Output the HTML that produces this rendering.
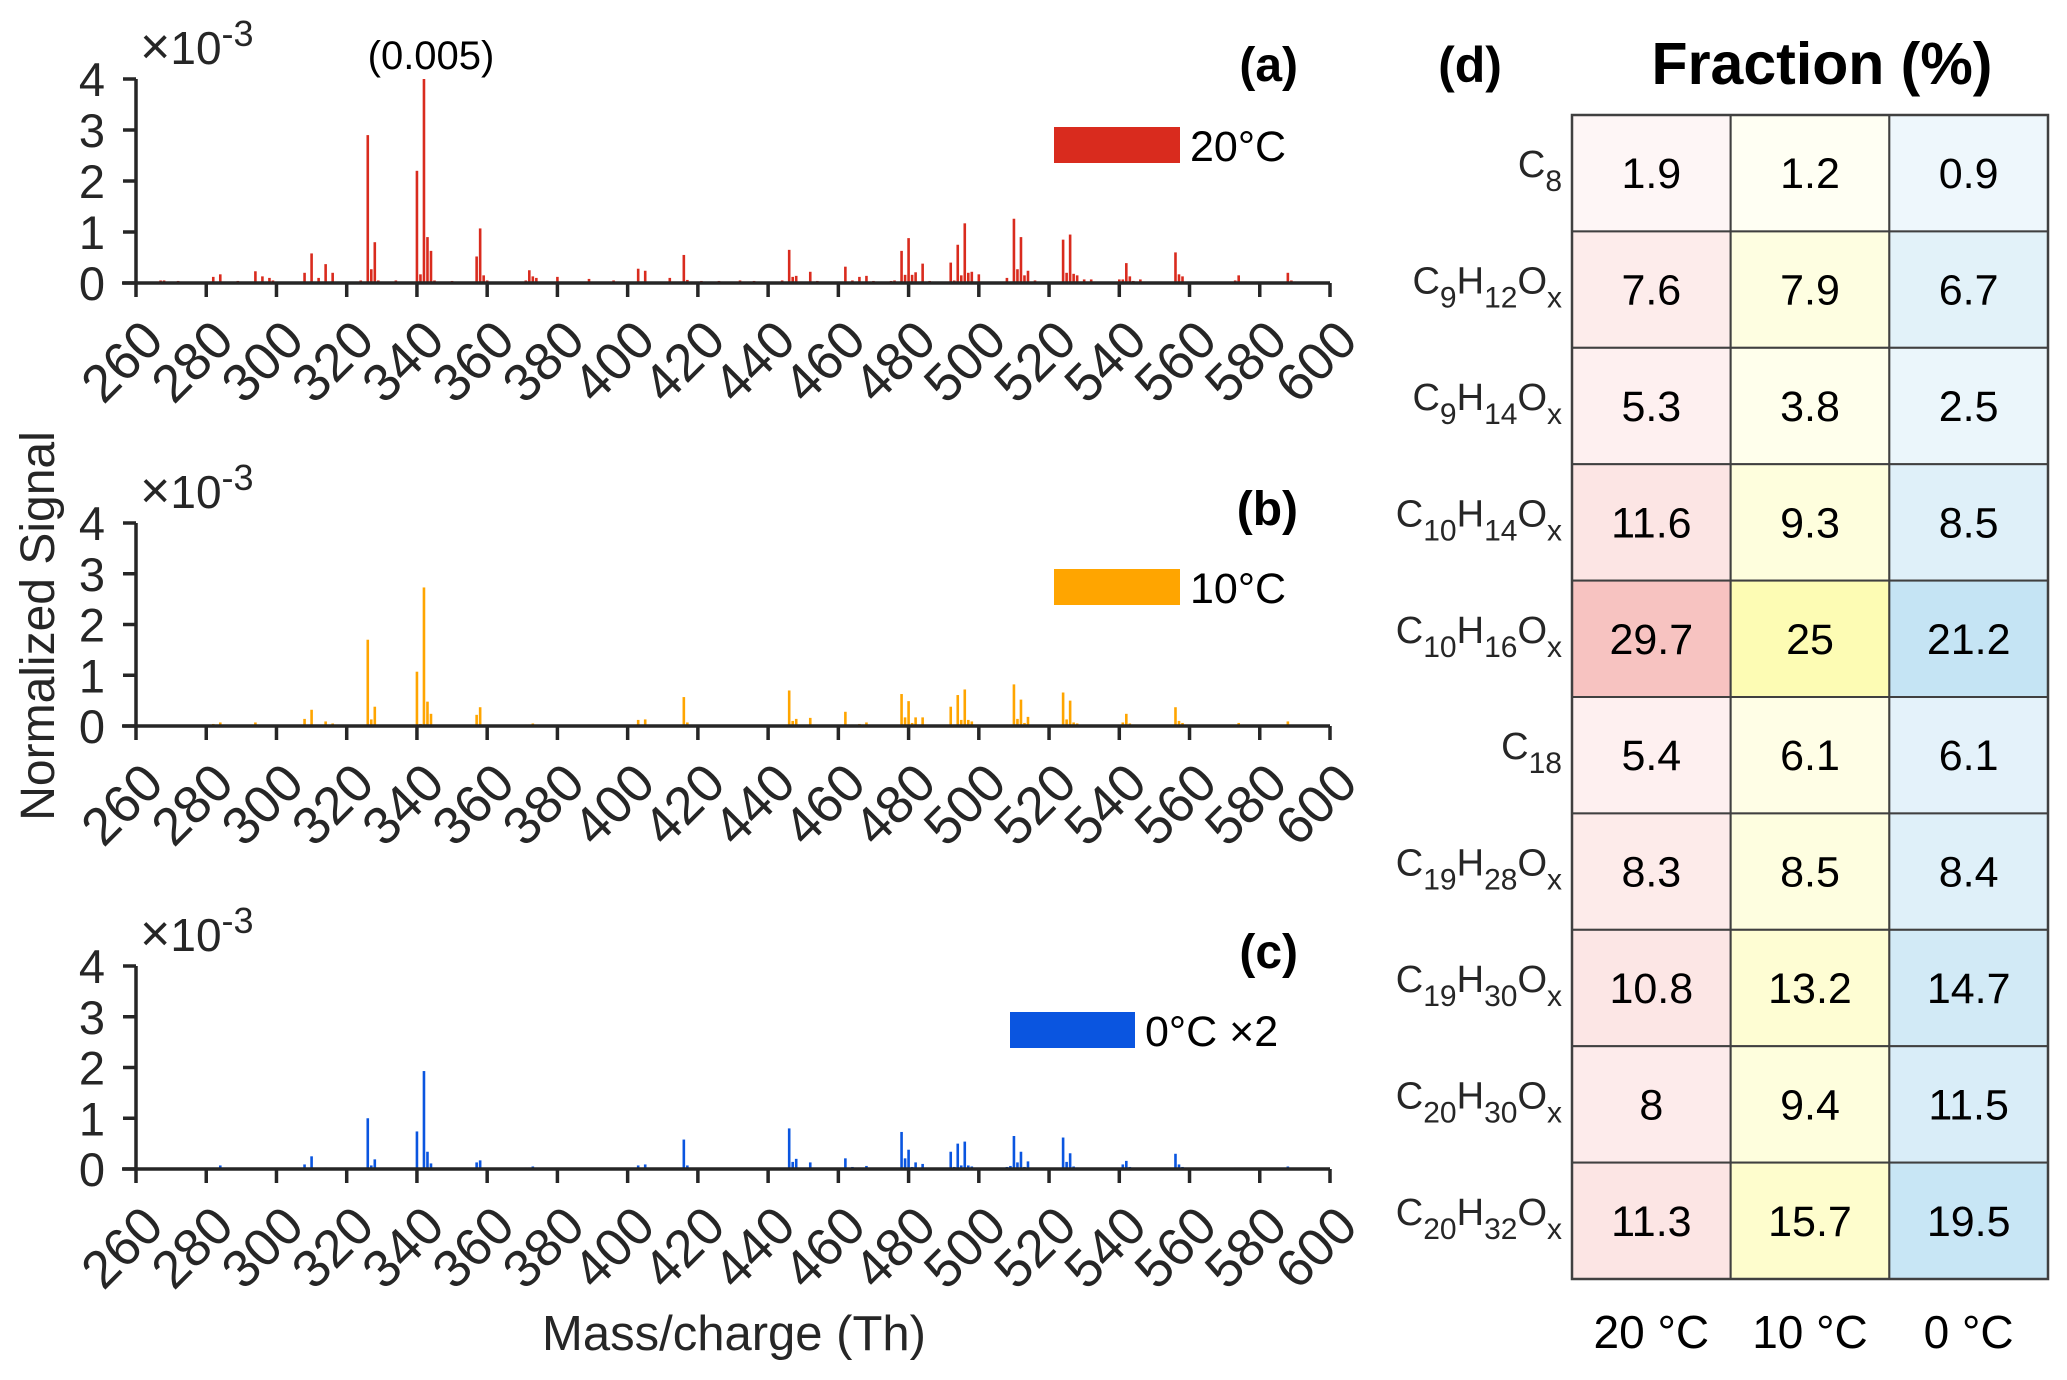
<!DOCTYPE html>
<html><head><meta charset="utf-8">
<style>
html,body{margin:0;padding:0;background:#fff;}
svg{display:block;font-family:"Liberation Sans",Arial,sans-serif;}
</style></head>
<body>
<svg id="fig" width="2067" height="1380" viewBox="0 0 2067 1380" xmlns="http://www.w3.org/2000/svg"></svg>
<script>
// ---- spectrum data (masses in Th, signal in 1e-3) ----
const massA = [267,268,272,282,284,289,294,296,298,299,308,310,312,314,316,324,326,327,328,329,334,340,341,342,343,344,345,350,357,358,359,360,371,372,373,374,380,389,396,403,405,412,416,417,421,426,432,436,444,446,447,448,452,454,462,464,466,468,470,475,476,478,479,480,481,482,484,486,492,493,494,495,496,497,498,500,508,510,511,512,513,514,516,524,525,526,527,528,530,532,540,541,542,543,544,546,556,557,558,562,573,574,576,588,589,590];
const valA = [0.05,0.05,0.04,0.12,0.17,0.04,0.23,0.13,0.1,0.05,0.2,0.58,0.1,0.37,0.2,0.05,2.9,0.27,0.8,0.05,0.05,2.2,0.17,4.0,0.9,0.63,0.05,0.04,0.52,1.07,0.15,0.05,0.05,0.25,0.13,0.1,0.12,0.08,0.05,0.28,0.24,0.1,0.55,0.06,0.04,0.04,0.05,0.04,0.05,0.65,0.12,0.14,0.22,0.04,0.32,0.05,0.12,0.14,0.04,0.04,0.05,0.63,0.16,0.88,0.16,0.21,0.38,0.04,0.4,0.05,0.75,0.15,1.17,0.2,0.22,0.17,0.1,1.26,0.27,0.9,0.15,0.24,0.05,0.85,0.2,0.95,0.18,0.15,0.07,0.07,0.07,0.07,0.39,0.13,0.04,0.07,0.6,0.17,0.13,0.03,0.05,0.15,0.03,0.2,0.05,0.03];
const massB = [282,284,294,308,310,314,316,325,326,327,328,340,341,342,343,344,357,358,371,372,373,380,389,403,405,416,417,432,436,446,447,448,452,460,462,463,464,466,468,478,479,480,481,482,484,492,493,494,495,496,497,498,500,508,509,510,511,512,513,514,524,525,526,527,528,530,532,541,542,543,546,556,557,558,559,573,574,588];
const valB = [0.04,0.07,0.07,0.14,0.32,0.09,0.05,0.02,1.7,0.13,0.38,1.07,0.04,2.73,0.48,0.24,0.22,0.37,0.03,0.03,0.05,0.02,0.03,0.12,0.13,0.57,0.07,0.02,0.02,0.7,0.1,0.14,0.16,0.02,0.28,0.03,0.03,0.04,0.07,0.63,0.17,0.49,0.06,0.17,0.17,0.38,0.03,0.61,0.12,0.72,0.12,0.09,0.03,0.03,0.03,0.82,0.14,0.52,0.06,0.18,0.66,0.13,0.5,0.07,0.05,0.02,0.03,0.07,0.24,0.05,0.02,0.37,0.1,0.06,0.03,0.02,0.06,0.09];
const massC = [282,284,308,310,314,316,325,326,327,328,340,341,342,343,344,357,358,371,372,373,403,405,416,417,446,447,448,452,462,463,464,466,468,478,479,480,481,482,484,492,493,494,495,496,497,498,508,509,510,511,512,513,514,524,525,526,527,528,541,542,543,556,557,558,573,574,588];
const valC = [0.03,0.07,0.09,0.25,0.03,0.02,0.02,1.0,0.07,0.19,0.74,0.02,1.93,0.34,0.11,0.13,0.17,0.03,0.03,0.05,0.07,0.09,0.58,0.07,0.8,0.14,0.2,0.13,0.21,0.03,0.04,0.03,0.06,0.73,0.21,0.38,0.04,0.13,0.1,0.34,0.04,0.5,0.07,0.54,0.07,0.05,0.04,0.06,0.65,0.13,0.34,0.04,0.15,0.62,0.14,0.31,0.05,0.03,0.09,0.16,0.04,0.3,0.09,0.04,0.03,0.03,0.05];
const xTicks = [260,280,300,320,340,360,380,400,420,440,460,480,500,520,540,560,580,600];
const yTicks = [0,1,2,3,4];

// ---- heatmap data ----
const rowLabels = [["C","8"],["C","9","H","12","O","x"],["C","9","H","14","O","x"],["C","10","H","14","O","x"],["C","10","H","16","O","x"],["C","18"],["C","19","H","28","O","x"],["C","19","H","30","O","x"],["C","20","H","30","O","x"],["C","20","H","32","O","x"]];
const colLabels = ["20 °C","10 °C","0 °C"];
const frac20 = [1.9,7.6,5.3,11.6,29.7,5.4,8.3,10.8,8,11.3];
const frac10 = [1.2,7.9,3.8,9.3,25,6.1,8.5,13.2,9.4,15.7];
const frac0 = [0.9,6.7,2.5,8.5,21.2,6.1,8.4,14.7,11.5,19.5];

const NS="http://www.w3.org/2000/svg";
const svg=document.getElementById('fig');
function mk(tag,attrs,parent){const e=document.createElementNS(NS,tag);for(const k in attrs)e.setAttribute(k,attrs[k]);(parent||svg).appendChild(e);return e;}

const X0=136,X1=1330,MMIN=260,MMAX=600;
function xs(m){return X0+(m-MMIN)/(MMAX-MMIN)*(X1-X0);}
const panels=[
 {id:'a',y0:283,y4:79,mass:massA,val:valA,color:'#d92b1e',leg:'20°C',legX:1054,legW:126,legY:127,label:'(a)'},
 {id:'b',y0:726,y4:523,mass:massB,val:valB,color:'#ffa500',leg:'10°C',legX:1054,legW:126,legY:569,label:'(b)'},
 {id:'c',y0:1169,y4:966,mass:massC,val:valC,color:'#0a55e0',leg:'0°C ×2',legX:1010,legW:125,legY:1012,label:'(c)'}
];
panels.forEach(p=>{
  const g=mk('g',{});
  
  
  const ys=v=>p.y0+(v/4)*(p.y4-p.y0);
  p.mass.forEach((m,i)=>{
    const v=Math.min(p.val[i],4);
    const r=mk('rect',{x:xs(m)-1.3,y:ys(v),width:2.6,height:p.y0-ys(v),fill:p.color},g);
    
    
  });
  const ax=mk('path',{d:`M${X0} ${p.y4} V${p.y0} M${X0-14} ${p.y0} H${X1}`,stroke:'#262626','stroke-width':3.5,fill:'none'},g);
  
  
  yTicks.forEach(t=>{
    mk('line',{x1:X0-13,x2:X0,y1:ys(t),y2:ys(t),stroke:'#262626','stroke-width':3.5},g);
    const tx=mk('text',{x:105,y:ys(t)+17,'text-anchor':'end','font-size':47,fill:'#262626'},g);
    tx.textContent=t;
    
    
  });
  xTicks.forEach(t=>{
    const x=xs(t);
    mk('line',{x1:x,x2:x,y1:p.y0,y2:p.y0+14,stroke:'#262626','stroke-width':3.5},g);
    const ax_=x+30, ay=p.y0+60;
    const tx=mk('text',{x:ax_,y:ay,'text-anchor':'end','font-size':53,fill:'#262626',transform:`rotate(-45 ${ax_} ${ay})`},g);
    tx.textContent=t;
    
    
  });
  const ex=mk('text',{x:140,y:p.y4-15,'font-size':46,fill:'#262626'},g);
  ex.innerHTML='<tspan font-size="52">×</tspan>10<tspan dy="-18" font-size="36">-3</tspan>';
  
  
  const pl=mk('text',{x:1298,y:p.y4+2,'text-anchor':'end','font-size':48,'font-weight':'bold',fill:'#000'},g);
  pl.textContent=p.label;
  
  
  const lr=mk('rect',{x:p.legX,y:p.legY,width:p.legW,height:36,fill:p.color},g);
  
  
  const lt=mk('text',{x:p.legX+p.legW+10,y:p.legY+34,'font-size':43,fill:'#000'},g);
  lt.textContent=p.leg;
  
  
});
const clip=mk('text',{x:431,y:69,'text-anchor':'middle','font-size':40,fill:'#000'});
clip.textContent='(0.005)';


const yt=mk('text',{x:54,y:626,'text-anchor':'middle','font-size':48,fill:'#262626',transform:'rotate(-90 54 626)'});
yt.textContent='Normalized Signal';


const xt=mk('text',{x:734,y:1350,'text-anchor':'middle','font-size':49,fill:'#262626'});
xt.textContent='Mass/charge (Th)';



// ---- heatmap ----
const HL=1572,HR=2048,HT=115,HB=1279;
const cw=(HR-HL)/3, rh=(HB-HT)/rowLabels.length;
const cols=[frac20,frac10,frac0];
const lo=[[255,250,250],[255,255,246],[240,248,252]];
const hi=[[247,195,193],[253,252,180],[197,228,244]];
const hm=mk('g',{});


cols.forEach((arr,c)=>{
  const mx=Math.max(...arr);
  arr.forEach((v,r)=>{
    const t=v/mx;
    const col=lo[c].map((a,k)=>Math.round(a+(hi[c][k]-a)*t));
    const cell=mk('rect',{x:HL+c*cw,y:HT+r*rh,width:cw,height:rh,fill:`rgb(${col.join(',')})`,stroke:'#404040','stroke-width':2},hm);
    
    
    const tx=mk('text',{x:HL+c*cw+cw/2,y:HT+r*rh+rh/2+15,'text-anchor':'middle','font-size':43,fill:'#000'},hm);
    tx.textContent=v;
    
    
  });
});
mk('rect',{x:HL,y:HT,width:HR-HL,height:HB-HT,fill:'none',stroke:'#404040','stroke-width':2.5},hm);
rowLabels.forEach((parts,r)=>{
  const yb=HT+r*rh+rh/2+4;
  const tx=mk('text',{x:1562,y:yb,'text-anchor':'end','font-size':38,fill:'#262626'},hm);
  let html='';
  parts.forEach((s,i)=>{ html+= (i%2===0)?`<tspan dy="${i===0?0:-14}" font-size="38">${s}</tspan>`:`<tspan dy="14" font-size="30">${s}</tspan>`; });
  tx.innerHTML=html;
  
  
});
colLabels.forEach((s,c)=>{
  const tx=mk('text',{x:HL+c*cw+cw/2,y:1348,'text-anchor':'middle','font-size':46,fill:'#000'},hm);
  tx.textContent=s;
  
  
});
const ft=mk('text',{x:1822,y:84,'text-anchor':'middle','font-size':59,'font-weight':'bold',fill:'#000'});
ft.textContent='Fraction (%)';


const dl=mk('text',{x:1470,y:82,'text-anchor':'middle','font-size':50,'font-weight':'bold',fill:'#000'});
dl.textContent='(d)';


</script>
</body></html>
